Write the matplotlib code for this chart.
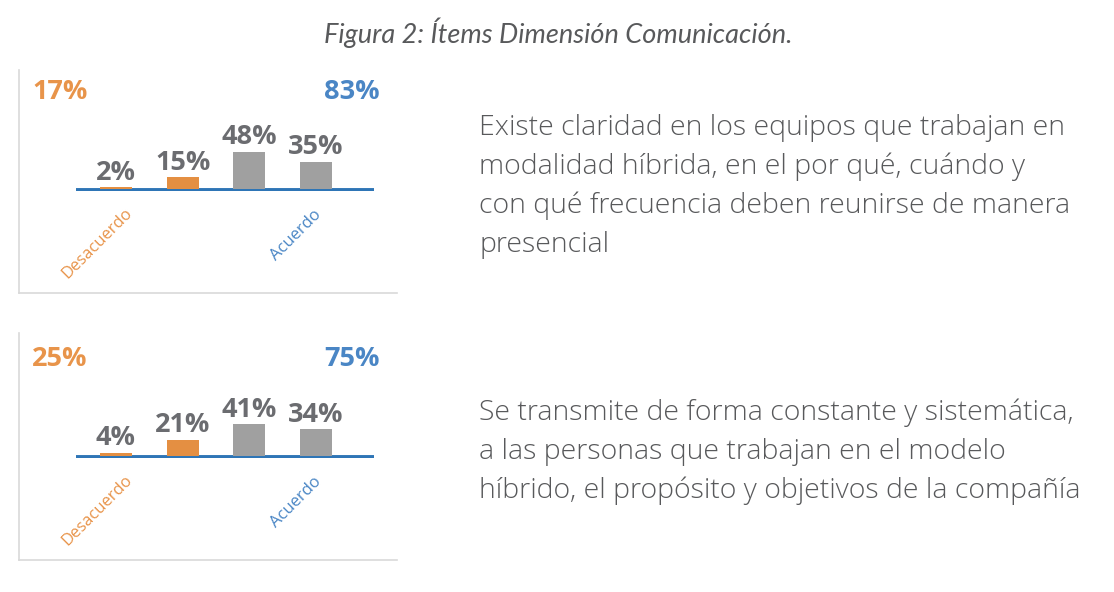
import numpy as np
import matplotlib.pyplot as plt

# data
bar_values = [[2, 15, 48, 35], [4, 21, 41, 34]]
desacuerdo_tot = [17, 25]
acuerdo_tot = [83, 75]
group_labels = ['Desacuerdo', 'Acuerdo']
items = [
    ['Existe claridad en los equipos que trabajan en',
     'modalidad híbrida, en el por qué, cuándo y',
     'con qué frecuencia deben reunirse de manera',
     'presencial'],
    ['Se transmite de forma constante y sistemática,',
     'a las personas que trabajan en el modelo',
     'híbrido, el propósito y objetivos de la compañía'],
]
title = 'Figura 2: Ítems Dimensión Comunicación.'

W, H = 1114, 592
orange = '#E48F42'
orange_txt = '#E8944A'
blue = '#2E75B6'
blue_txt = '#4A86C5'
gray_bar = '#A0A0A0'
gray_txt = '#6B6C70'
text_col = '#58595B'

plt.rcParams['font.family'] = ['Open Sans', 'DejaVu Sans']

fig = plt.figure(figsize=(W / 100, H / 100), dpi=100)
fig.patch.set_facecolor('white')

def fx(x):
    return x / W

def fy(y):
    return 1 - y / H

fig.text(fx(558), fy(33), title, ha='center', va='center', fontsize=19.5,
         style='italic', color=text_col, family=['Lato', 'DejaVu Sans'])

scale = 0.78  # px per percent
step = 66.7   # px between bars
item_base = [[135, 174, 213, 252], [420, 459, 498]]
for k in range(2):
    off = 267 * k
    base = 189 + off
    # axes for bars
    left_px, right_px = 76, 374
    ymin, ymax = -3, 75
    ax = fig.add_axes([fx(left_px), (H - base + ymin * scale) / H,
                       (right_px - left_px) / W, (ymax - ymin) * scale / H])
    ax.set_xlim(-(116 - left_px) / step, 3 + (right_px - 316) / step)
    ax.set_ylim(ymin, ymax)
    ax.axis('off')
    vals = bar_values[k]
    cols = [orange, orange, gray_bar, gray_bar]
    bars = ax.bar(np.arange(4), vals, width=32 / step, color=cols, zorder=2)
    ax.axhline(-1.3, color=blue, lw=2.8, zorder=1)
    ax.bar_label(bars, labels=[f'{v}%' for v in vals], padding=1, fontsize=19.5,
                 fontweight='bold', color=gray_txt, clip_on=False)

    # frame lines
    top_frame = 70 if k == 0 else 333
    fig.add_artist(plt.Line2D([fx(19), fx(19)], [fy(top_frame), fy(293 + off)],
                              color='#D9D9D9', lw=1.2))
    fig.add_artist(plt.Line2D([fx(19), fx(397)], [fy(293 + off), fy(293 + off)],
                              color='#D9D9D9', lw=1.2))

    # totals
    fig.text(fx(32), fy(92 + off), f'{desacuerdo_tot[k]}%', ha='left', va='center',
             fontsize=19.5, fontweight='bold', color=orange_txt)
    fig.text(fx(380), fy(92 + off), f'{acuerdo_tot[k]}%', ha='right', va='center',
             fontsize=19.5, fontweight='bold', color=blue_txt)

    # rotated group labels
    fig.text(fx(97), fy(243 + off), group_labels[0], rotation=45, rotation_mode='anchor',
             ha='center', va='center', fontsize=12, color=orange_txt)
    fig.text(fx(296), fy(235 + off), group_labels[1], rotation=45, rotation_mode='anchor',
             ha='center', va='center', fontsize=12, color=blue_txt)

    # item text, one line at a time
    for line, yb in zip(items[k], item_base[k]):
        fig.text(fx(479), fy(yb), line, ha='left', va='baseline', fontsize=20.5,
                 color=text_col, fontweight='light')

fig.savefig('out.png', dpi=100, facecolor='white')
